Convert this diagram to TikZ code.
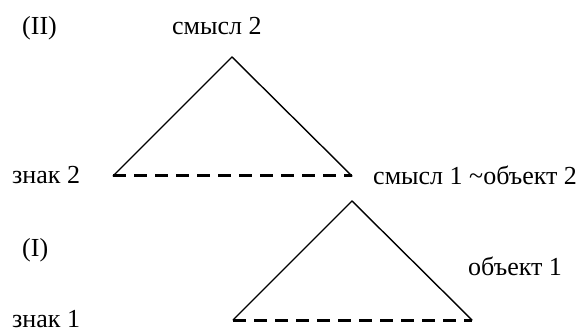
\documentclass[tikz,border=0pt]{standalone}
\usepackage{fontspec}
\setmainfont{Liberation Serif}
\begin{document}
\begin{tikzpicture}[x=1pt,y=-1pt,
  lbl/.style={anchor=base west,inner sep=0pt,font=\fontsize{26}{30}\selectfont},
  side/.style={line width=1.4pt,line cap=round,line join=miter},
  base/.style={line width=3pt,dash pattern=on 13pt off 8pt}]
\useasboundingbox (0,0) rectangle (583,331);
% vertices of the two triangles
\coordinate (s2)  at (232,57);
\coordinate (z2)  at (113,176);
\coordinate (s1)  at (352,176);
\coordinate (apI) at (352,201);
\coordinate (z1)  at (233,320);
\coordinate (o1)  at (472,320);
% labels
\node[lbl] (tII)  at (22,35)  {(II)};
\node[lbl] (tsm2) at (172,35) {смысл 2};
\node[lbl] (tzn2) at (12,183) {знак 2};
\node[lbl] (tsm1) at (373,185) {смысл 1 \textasciitilde объект 2};
\node[lbl] (tI)   at (22,256) {(I)};
\node[lbl] (tob1) at (468,275) {объект 1};
\node[lbl] (tzn1) at (12,327.5) {знак 1};
% triangle II
\draw[side] (z2) -- (s2) -- (s1);
\draw[base] (z2) -- (s1);
% triangle I
\draw[side] (z1) -- (apI) -- (o1);
\draw[base] (z1) -- (o1);
\end{tikzpicture}
\end{document}
